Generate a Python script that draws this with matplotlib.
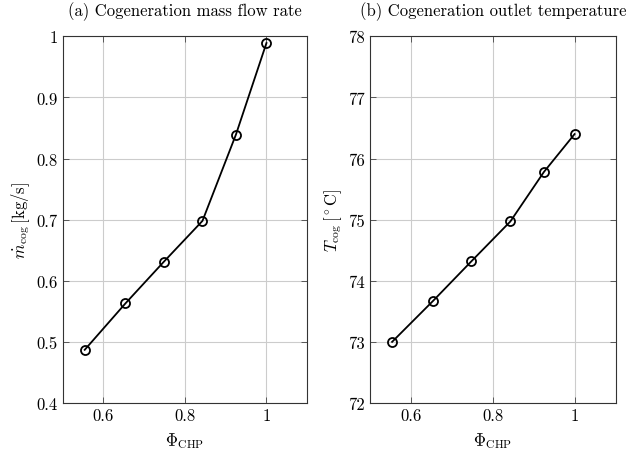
import matplotlib
matplotlib.use('agg')
import matplotlib.pyplot as plt

# data
phi_chp = [0.554, 0.654, 0.748, 0.843, 0.925, 1.0]
m_cog = [0.487, 0.563, 0.631, 0.698, 0.839, 0.989]
t_cog = [73.0, 73.67, 74.32, 74.97, 75.78, 76.4]

x_ticks = [0.6, 0.8, 1.0]
x_labels = ['0.6', '0.8', '1']
m_ticks = [0.4, 0.5, 0.6, 0.7, 0.8, 0.9, 1.0]
m_labels = ['0.4', '0.5', '0.6', '0.7', '0.8', '0.9', '1']
t_ticks = [72, 73, 74, 75, 76, 77, 78]

plt.rcParams['font.family'] = 'serif'
plt.rcParams['font.serif'] = ['cmr10']
plt.rcParams['mathtext.fontset'] = 'cm'
plt.rcParams['axes.unicode_minus'] = False
plt.rcParams['font.size'] = 12

fig = plt.figure(figsize=(6.33, 4.56), dpi=100)
ax1 = fig.add_axes([62.7 / 633, 1 - 404 / 456, 244.5 / 633, 366.7 / 456])
ax2 = fig.add_axes([370 / 633, 1 - 404 / 456, 245.5 / 633, 366.7 / 456])


def style(ax, yticks, ylabels):
    ax.set_xlim(0.5, 1.1)
    ax.set_xticks(x_ticks)
    ax.set_xticklabels(x_labels)
    ax.set_yticks(yticks)
    ax.set_yticklabels(ylabels)
    ax.set_ylim(yticks[0], yticks[-1])
    ax.grid(True, color='#cccccc', linewidth=0.8)
    ax.set_axisbelow(True)
    ax.tick_params(direction='in', top=True, right=True, length=4,
                   width=0.6, color='#444444', labelsize=12)
    for s in ax.spines.values():
        s.set_linewidth(0.8)
        s.set_color('#333333')
    ax.set_xlabel(r'$\Phi_{\mathrm{CHP}}$', fontsize=12, labelpad=5)


ax1.plot(phi_chp, m_cog, color='black', lw=1.3, marker='o', ms=6.5,
         mfc='none', mec='black', mew=1.3)
style(ax1, m_ticks, m_labels)
ax1.set_ylabel(r'$\dot{m}_{\mathrm{cog}}\,$[kg/s]', fontsize=12, labelpad=3)
ax1.set_title('(a) Cogeneration mass flow rate', fontsize=12, pad=15)

ax2.plot(phi_chp, t_cog, color='black', lw=1.3, marker='o', ms=6.5,
         mfc='none', mec='black', mew=1.3)
style(ax2, t_ticks, [str(t) for t in t_ticks])
ax2.set_ylabel(r'$T_{\mathrm{cog}}\,[^\circ\mathrm{C}]$', fontsize=12, labelpad=3)
ax2.set_title('(b) Cogeneration outlet temperature', fontsize=12, pad=15)

fig.savefig('out.png', dpi=100)
